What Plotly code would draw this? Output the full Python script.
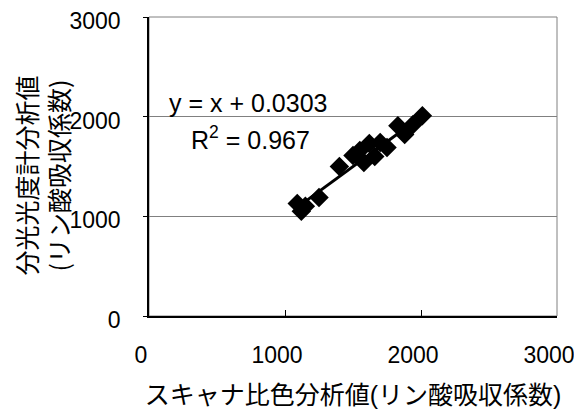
import plotly.graph_objects as go

# Data
scanner_vals = [1090, 1120, 1150, 1250, 1400, 1500, 1550, 1580, 1620, 1660, 1700, 1750, 1830, 1880, 1940, 2010]
spectro_vals = [1130, 1050, 1100, 1190, 1500, 1610, 1660, 1540, 1730, 1600, 1740, 1690, 1910, 1820, 1920, 2010]
trend_slope = 1.0
trend_intercept = 0.0303
r_squared = 0.967
tick_vals = [0, 1000, 2000, 3000]
tick_text = ["0", "1000", "2000", "3000"]

x_title = "スキャナ比色分析値(リン酸吸収係数)"
y_title = "分光光度計分析値<br>(リン酸吸収係数)"

FONT = "Liberation Sans, Arial, Noto Sans CJK JP, sans-serif"

x_min, x_max = min(scanner_vals), max(scanner_vals)
trend_x = [x_min, x_max]
trend_y = [trend_slope * v + trend_intercept for v in trend_x]

fig = go.Figure()
fig.add_trace(go.Scatter(
    x=trend_x, y=trend_y, mode="lines",
    line=dict(color="black", width=3), showlegend=False, hoverinfo="skip"))
fig.add_trace(go.Scatter(
    x=scanner_vals, y=spectro_vals, mode="markers",
    marker=dict(symbol="diamond", size=15, color="black", line=dict(width=0)),
    showlegend=False))

# page body has an 8px margin, so the figure is sized to fit the 582x409 window
fig.update_layout(
    width=574, height=401,
    margin=dict(l=141, r=25, t=9, b=93),
    paper_bgcolor="white", plot_bgcolor="white",
    font=dict(family=FONT, size=23, color="black"),
    shapes=[dict(type="rect", xref="paper", yref="paper", x0=0, y0=0, x1=1, y1=1,
                 line=dict(color="#808080", width=1), layer="below")],
    annotations=[
        dict(text="y = x + " + str(trend_intercept), x=130, y=2140, xref="x", yref="y",
             xanchor="left", yanchor="middle", showarrow=False,
             font=dict(size=25)),
        dict(text="R<sup>2</sup> = " + str(r_squared), x=295, y=1790, xref="x", yref="y",
             xanchor="left", yanchor="middle", showarrow=False,
             font=dict(size=25)),
        dict(text=y_title, x=-0.262, y=0.47, xref="paper", yref="paper",
             xanchor="center", yanchor="middle", textangle=-90, showarrow=False,
             font=dict(size=25, family="Noto Sans CJK JP, sans-serif")),
    ],
)

fig.update_xaxes(
    range=[0, 3000], tickvals=tick_vals, ticktext=tick_text,
    showgrid=False, zeroline=False, automargin=False,
    showline=True, linecolor="black", linewidth=1.5,
    ticks="inside", ticklen=6, tickcolor="black",
    ticklabelstandoff=18, ticklabeloverflow="allow", ticklabelshift=-8,
    title=dict(text=x_title, standoff=21,
               font=dict(size=25, family=FONT)),
)
fig.update_yaxes(
    range=[0, 3000], tickvals=tick_vals, ticktext=tick_text,
    showgrid=True, gridcolor="#808080", gridwidth=1,
    zeroline=False, automargin=False,
    showline=True, linecolor="black", linewidth=1.5,
    ticks="outside", ticklen=4, tickcolor="black",
    ticklabelstandoff=18, ticklabeloverflow="allow", ticklabelshift=4,
)

fig.write_html("out.html")
